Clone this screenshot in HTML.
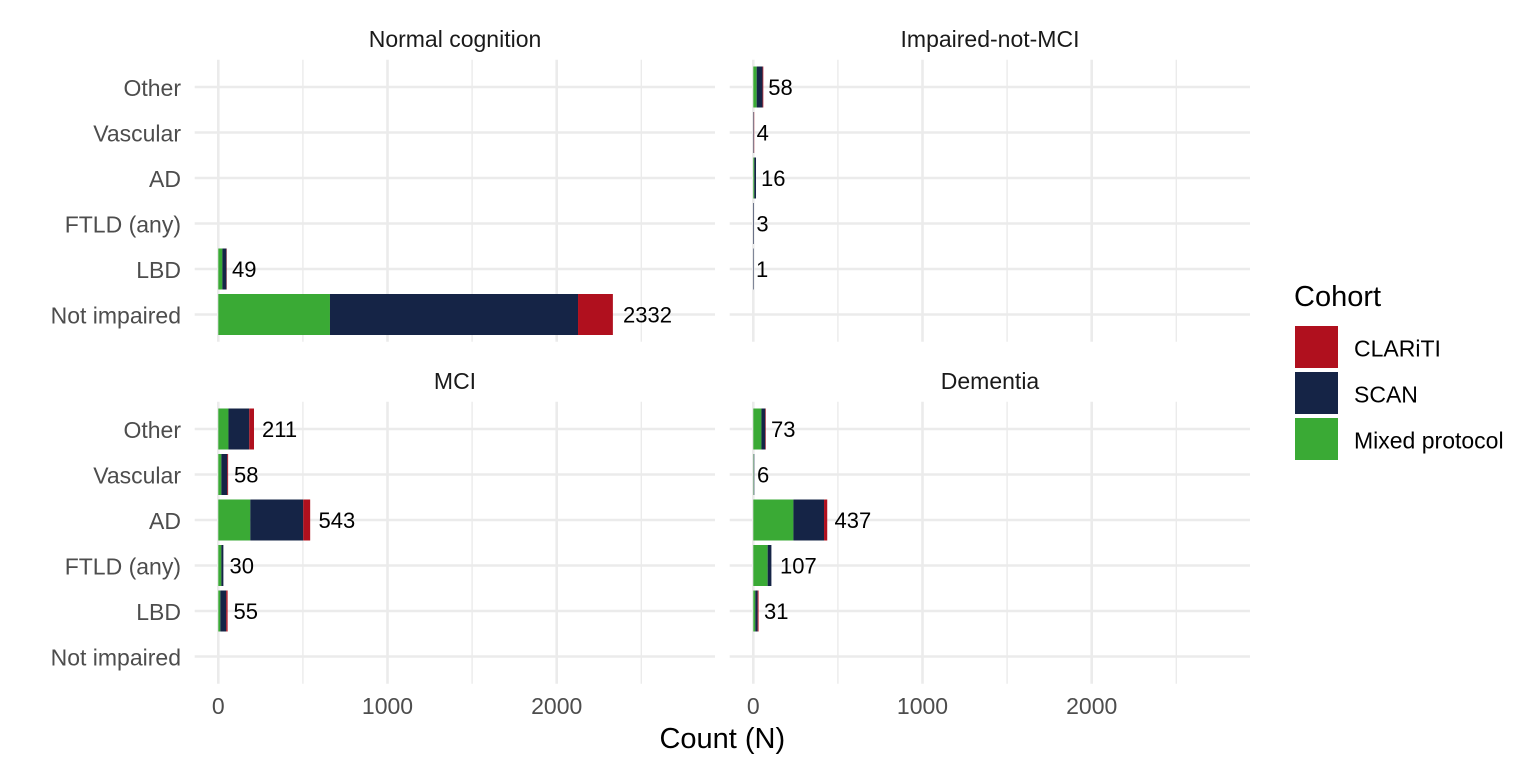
<!DOCTYPE html>
<html><head><meta charset="utf-8"><style>
html,body{margin:0;padding:0;background:#fff;}
svg{display:block;font-family:"Liberation Sans",Arial,sans-serif;}
</style></head><body>
<svg width="1536" height="768" viewBox="0 0 1536 768" xmlns="http://www.w3.org/2000/svg">
<rect width="1536" height="768" fill="#fff"/>
<g stroke="#ebebeb" fill="none">
<!-- minor verticals -->
<g stroke-width="1.4">
<line x1="302.9" y1="59.7" x2="302.9" y2="341.7"/><line x1="472.1" y1="59.7" x2="472.1" y2="341.7"/><line x1="641.3" y1="59.7" x2="641.3" y2="341.7"/>
<line x1="837.9" y1="59.7" x2="837.9" y2="341.7"/><line x1="1007.1" y1="59.7" x2="1007.1" y2="341.7"/><line x1="1176.3" y1="59.7" x2="1176.3" y2="341.7"/>
<line x1="302.9" y1="401.7" x2="302.9" y2="683.7"/><line x1="472.1" y1="401.7" x2="472.1" y2="683.7"/><line x1="641.3" y1="401.7" x2="641.3" y2="683.7"/>
<line x1="837.9" y1="401.7" x2="837.9" y2="683.7"/><line x1="1007.1" y1="401.7" x2="1007.1" y2="683.7"/><line x1="1176.3" y1="401.7" x2="1176.3" y2="683.7"/>
</g>
<g stroke-width="2.6">
<line x1="218.3" y1="59.7" x2="218.3" y2="341.7"/><line x1="387.5" y1="59.7" x2="387.5" y2="341.7"/><line x1="556.7" y1="59.7" x2="556.7" y2="341.7"/>
<line x1="753.3" y1="59.7" x2="753.3" y2="341.7"/><line x1="922.5" y1="59.7" x2="922.5" y2="341.7"/><line x1="1091.7" y1="59.7" x2="1091.7" y2="341.7"/>
<line x1="218.3" y1="401.7" x2="218.3" y2="683.7"/><line x1="387.5" y1="401.7" x2="387.5" y2="683.7"/><line x1="556.7" y1="401.7" x2="556.7" y2="683.7"/>
<line x1="753.3" y1="401.7" x2="753.3" y2="683.7"/><line x1="922.5" y1="401.7" x2="922.5" y2="683.7"/><line x1="1091.7" y1="401.7" x2="1091.7" y2="683.7"/>
<!-- horizontals top -->
<line x1="194.7" y1="87" x2="715" y2="87"/><line x1="194.7" y1="132.5" x2="715" y2="132.5"/><line x1="194.7" y1="178" x2="715" y2="178"/>
<line x1="194.7" y1="223.5" x2="715" y2="223.5"/><line x1="194.7" y1="269" x2="715" y2="269"/><line x1="194.7" y1="314.5" x2="715" y2="314.5"/>
<line x1="729.7" y1="87" x2="1250" y2="87"/><line x1="729.7" y1="132.5" x2="1250" y2="132.5"/><line x1="729.7" y1="178" x2="1250" y2="178"/>
<line x1="729.7" y1="223.5" x2="1250" y2="223.5"/><line x1="729.7" y1="269" x2="1250" y2="269"/><line x1="729.7" y1="314.5" x2="1250" y2="314.5"/>
<!-- horizontals bottom -->
<line x1="194.7" y1="429" x2="715" y2="429"/><line x1="194.7" y1="474.5" x2="715" y2="474.5"/><line x1="194.7" y1="520" x2="715" y2="520"/>
<line x1="194.7" y1="565.5" x2="715" y2="565.5"/><line x1="194.7" y1="611" x2="715" y2="611"/><line x1="194.7" y1="656.5" x2="715" y2="656.5"/>
<line x1="729.7" y1="429" x2="1250" y2="429"/><line x1="729.7" y1="474.5" x2="1250" y2="474.5"/><line x1="729.7" y1="520" x2="1250" y2="520"/>
<line x1="729.7" y1="565.5" x2="1250" y2="565.5"/><line x1="729.7" y1="611" x2="1250" y2="611"/><line x1="729.7" y1="656.5" x2="1250" y2="656.5"/>
</g>
</g>

<!-- bars: green #3AAA35, navy #152446, red #B0101E -->
<g>
<!-- Normal cognition -->
<rect x="218.3" y="248.5" width="4.06" height="41" fill="#3AAA35"/>
<rect x="222.36" y="248.5" width="4.06" height="41" fill="#152446"/>
<rect x="226.42" y="248.5" width="0.3" height="41" fill="#B0101E"/>
<rect x="218.3" y="294" width="111.67" height="41" fill="#3AAA35"/>
<rect x="329.97" y="294" width="248.05" height="41" fill="#152446"/>
<rect x="578.02" y="294" width="34.86" height="41" fill="#B0101E"/>
<!-- Impaired-not-MCI -->
<rect x="753.3" y="66.5" width="3.38" height="41" fill="#3AAA35"/>
<rect x="756.68" y="66.5" width="5.92" height="41" fill="#152446"/>
<rect x="762.6" y="66.5" width="0.7" height="41" fill="#B0101E"/>
<rect x="753.3" y="112" width="0.5" height="41" fill="#152446"/>
<rect x="753.8" y="112" width="0.5" height="41" fill="#B0101E" opacity="0.6"/>
<rect x="753.3" y="157.5" width="1.02" height="41" fill="#3AAA35"/>
<rect x="754.32" y="157.5" width="1.69" height="41" fill="#152446"/>
<rect x="753.3" y="203" width="0.6" height="41" fill="#152446"/>
<rect x="753.3" y="248.5" width="0.5" height="41" fill="#152446"/>
<!-- MCI -->
<rect x="218.3" y="408.5" width="10.15" height="41" fill="#3AAA35"/>
<rect x="228.45" y="408.5" width="20.81" height="41" fill="#152446"/>
<rect x="249.26" y="408.5" width="4.74" height="41" fill="#B0101E"/>
<rect x="218.3" y="454" width="3.05" height="41" fill="#3AAA35"/>
<rect x="221.35" y="454" width="5.92" height="41" fill="#152446"/>
<rect x="227.27" y="454" width="0.85" height="41" fill="#B0101E"/>
<rect x="218.3" y="499.5" width="31.98" height="41" fill="#3AAA35"/>
<rect x="250.28" y="499.5" width="52.96" height="41" fill="#152446"/>
<rect x="303.24" y="499.5" width="6.94" height="41" fill="#B0101E"/>
<rect x="218.3" y="545" width="3.05" height="41" fill="#3AAA35"/>
<rect x="221.35" y="545" width="2.03" height="41" fill="#152446"/>
<rect x="218.3" y="590.5" width="2.03" height="41" fill="#3AAA35"/>
<rect x="220.33" y="590.5" width="5.92" height="41" fill="#152446"/>
<rect x="226.25" y="590.5" width="1.35" height="41" fill="#B0101E"/>
<!-- Dementia -->
<rect x="753.3" y="408.5" width="8.12" height="41" fill="#3AAA35"/>
<rect x="761.42" y="408.5" width="3.89" height="41" fill="#152446"/>
<rect x="765.31" y="408.5" width="0.5" height="41" fill="#B0101E"/>
<rect x="753.3" y="454" width="0.4" height="41" fill="#3AAA35"/>
<rect x="753.7" y="454" width="0.7" height="41" fill="#5a6a80"/>
<rect x="753.3" y="499.5" width="40.1" height="41" fill="#3AAA35"/>
<rect x="793.4" y="499.5" width="30.63" height="41" fill="#152446"/>
<rect x="824.03" y="499.5" width="3.21" height="41" fill="#B0101E"/>
<rect x="753.3" y="545" width="14.38" height="41" fill="#3AAA35"/>
<rect x="767.68" y="545" width="3.72" height="41" fill="#152446"/>
<rect x="753.3" y="590.5" width="2.03" height="41" fill="#3AAA35"/>
<rect x="755.33" y="590.5" width="2.37" height="41" fill="#152446"/>
<rect x="757.7" y="590.5" width="0.85" height="41" fill="#B0101E"/>
</g>

<!-- bar labels -->
<g font-size="22" fill="#000">
<text x="232" y="277">49</text>
<text x="623" y="322.5">2332</text>
<text x="768.3" y="95">58</text>
<text x="756.6" y="140.5">4</text>
<text x="761" y="186">16</text>
<text x="756.4" y="231.5">3</text>
<text x="756" y="277">1</text>
<text x="262" y="437">211</text>
<text x="234" y="482.5">58</text>
<text x="318.5" y="528">543</text>
<text x="229.5" y="573.5">30</text>
<text x="233.5" y="619">55</text>
<text x="771" y="437">73</text>
<text x="757" y="482.5">6</text>
<text x="834.5" y="528">437</text>
<text x="780" y="573.5">107</text>
<text x="764" y="619">31</text>
</g>

<!-- strip titles -->
<g font-size="23" fill="#1a1a1a" text-anchor="middle">
<text x="455" y="47">Normal cognition</text>
<text x="990" y="47">Impaired-not-MCI</text>
<text x="455" y="389">MCI</text>
<text x="990" y="389">Dementia</text>
</g>

<!-- y axis labels -->
<g font-size="23" fill="#4d4d4d" text-anchor="end">
<text x="181" y="96">Other</text>
<text x="181" y="141.5">Vascular</text>
<text x="181" y="187">AD</text>
<text x="181" y="232.5">FTLD (any)</text>
<text x="181" y="278">LBD</text>
<text x="181" y="323.5">Not impaired</text>
<text x="181" y="438">Other</text>
<text x="181" y="483.5">Vascular</text>
<text x="181" y="529">AD</text>
<text x="181" y="574.5">FTLD (any)</text>
<text x="181" y="620">LBD</text>
<text x="181" y="665.5">Not impaired</text>
</g>

<!-- x axis labels -->
<g font-size="23" fill="#4d4d4d" text-anchor="middle">
<text x="218.3" y="714">0</text>
<text x="387.5" y="714">1000</text>
<text x="556.7" y="714">2000</text>
<text x="753.3" y="714">0</text>
<text x="922.5" y="714">1000</text>
<text x="1091.7" y="714">2000</text>
</g>
<text x="722.3" y="748" font-size="29" fill="#000" text-anchor="middle">Count (N)</text>

<!-- legend -->
<text x="1294" y="306" font-size="29" fill="#000">Cohort</text>
<rect x="1295" y="326" width="43" height="42" fill="#B0101E"/>
<rect x="1295" y="372" width="43" height="42" fill="#152446"/>
<rect x="1295" y="418" width="43" height="42" fill="#3AAA35"/>
<g font-size="23" fill="#000">
<text x="1354" y="356.5">CLARiTI</text>
<text x="1354" y="402.5">SCAN</text>
<text x="1354" y="448.5">Mixed protocol</text>
</g>
</svg>
</body></html>
